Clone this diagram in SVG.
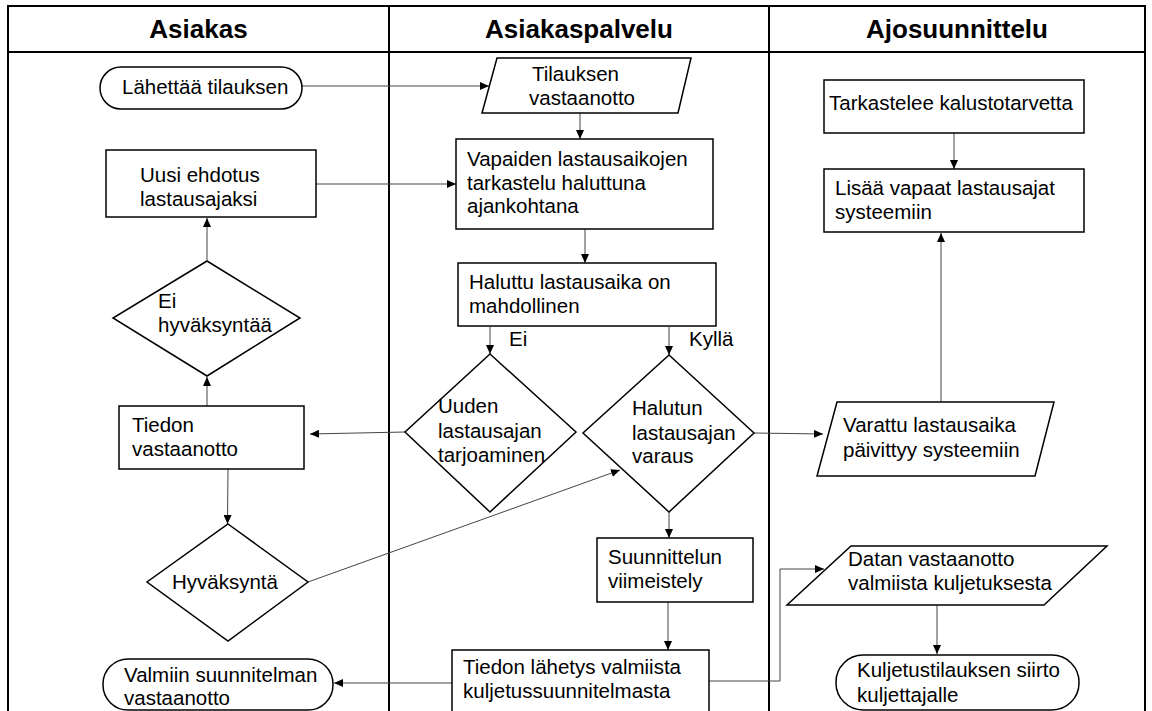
<svg xmlns="http://www.w3.org/2000/svg" width="1152" height="711" viewBox="0 0 1152 711">
<defs>
<marker id="ah" markerUnits="userSpaceOnUse" markerWidth="9" markerHeight="8" refX="9" refY="4" orient="auto">
<path d="M0,0 L9,4 L0,8 z" fill="#000"/>
</marker>
<style>
.lane{fill:none;stroke:#000;stroke-width:2}
.hd{font-family:"Liberation Sans",Arial,sans-serif;font-size:26px;font-weight:bold;fill:#000;text-anchor:middle}
.sh{fill:#fff;stroke:#000;stroke-width:1.5}
.t{font-family:"Liberation Sans",Arial,sans-serif;font-size:20.5px;fill:#000}
.c{fill:none;stroke:#444;stroke-width:1;marker-end:url(#ah)}
</style>
</defs>
<rect width="1152" height="711" fill="#fff"/>
<g id="lanes">
<path class="lane" d="M8,716 L8,6 L1145,6 L1145,716 M8,52 L1145,52 M389,6 L389,716 M769,6 L769,716"/>
<text class="hd" x="198.5" y="38">Asiakas</text>
<text class="hd" x="579" y="38">Asiakaspalvelu</text>
<text class="hd" x="957" y="38">Ajosuunnittelu</text>
</g>
<g id="connectors">
<path class="c" d="M302,86 L489,86"/>
<path class="c" d="M580,113 L580,139"/>
<path class="c" d="M316,184 L456,184"/>
<path class="c" d="M207,260 L207,218"/>
<path class="c" d="M207,406 L207,377"/>
<path class="c" d="M585,229 L585,263"/>
<path class="c" d="M490,327 L490,354"/>
<path class="c" d="M669,327 L669,355"/>
<path class="c" d="M405,432 L310,434"/>
<path class="c" d="M228,469 L227.5,524"/>
<path class="c" d="M308,582 L620,470"/>
<path class="c" d="M754,433 L823,434"/>
<path class="c" d="M941,402 L941,233"/>
<path class="c" d="M954,133 L954,169"/>
<path class="c" d="M669,512 L669,538"/>
<path class="c" d="M668,602 L668,650"/>
<path class="c" d="M452,683 L334,683"/>
<path class="c" d="M709,681 L780,681 L780,569 L824,569"/>
<path class="c" d="M937,605 L937,654"/>
</g>
<g id="n-lahettaa">
<rect class="sh" x="100" y="67" width="202" height="42" rx="21" ry="21"/>
<text class="t" x="122" y="94">Lähettää tilauksen</text>
</g>
<g id="n-tilauksen">
<polygon class="sh" points="497,58 691,58 678,113 482,113"/>
<text class="t" x="532" y="81">Tilauksen</text>
<text class="t" x="529" y="105">vastaanotto</text>
</g>
<g id="n-vapaiden">
<rect class="sh" x="456" y="139" width="257" height="90"/>
<text class="t" x="467" y="166">Vapaiden lastausaikojen</text>
<text class="t" x="467" y="190">tarkastelu haluttuna</text>
<text class="t" x="467" y="213">ajankohtana</text>
</g>
<g id="n-uusi">
<rect class="sh" x="106" y="150" width="210" height="67"/>
<text class="t" x="140" y="182">Uusi ehdotus</text>
<text class="t" x="140" y="206">lastausajaksi</text>
</g>
<g id="n-eihyv">
<polygon class="sh" points="207,261 300,318 207,376 113,318"/>
<text class="t" x="158" y="308">Ei</text>
<text class="t" x="158" y="332">hyväksyntää</text>
</g>
<g id="n-tiedon">
<rect class="sh" x="119" y="406" width="185" height="63"/>
<text class="t" x="132" y="432">Tiedon</text>
<text class="t" x="132" y="456">vastaanotto</text>
</g>
<g id="n-hyv">
<polygon class="sh" points="228,524 308,582 228,641 147,582"/>
<text class="t" x="172" y="589">Hyväksyntä</text>
</g>
<g id="n-valmiin">
<rect class="sh" x="103" y="659" width="230" height="51" rx="25" ry="25"/>
<text class="t" x="124" y="682">Valmiin suunnitelman</text>
<text class="t" x="124" y="705">vastaanotto</text>
</g>
<g id="n-haluttu">
<rect class="sh" x="458" y="263" width="258" height="63"/>
<text class="t" x="469" y="289">Haluttu lastausaika on</text>
<text class="t" x="469" y="313">mahdollinen</text>
</g>
<g id="l-ei">
<text class="t" x="509" y="346">Ei</text>
</g>
<g id="l-kylla">
<text class="t" x="689" y="346">Kyllä</text>
</g>
<g id="n-uuden">
<polygon class="sh" points="490,354 576,432 490,512 405,432"/>
<text class="t" x="438" y="413">Uuden</text>
<text class="t" x="438" y="438">lastausajan</text>
<text class="t" x="438" y="462">tarjoaminen</text>
</g>
<g id="n-halutun">
<polygon class="sh" points="669,355 754,433 669,512 583,433"/>
<text class="t" x="632" y="415">Halutun</text>
<text class="t" x="632" y="440">lastausajan</text>
<text class="t" x="632" y="463">varaus</text>
</g>
<g id="n-suunnittelun">
<rect class="sh" x="597" y="538" width="156" height="64"/>
<text class="t" x="608" y="564">Suunnittelun</text>
<text class="t" x="608" y="588">viimeistely</text>
</g>
<g id="n-lahetys">
<rect class="sh" x="452" y="650" width="257" height="70"/>
<text class="t" x="463" y="674">Tiedon lähetys valmiista</text>
<text class="t" x="463" y="698">kuljetussuunnitelmasta</text>
</g>
<g id="n-tarkastelee">
<rect class="sh" x="824" y="80" width="260" height="53"/>
<text class="t" x="829" y="110">Tarkastelee kalustotarvetta</text>
</g>
<g id="n-lisaa">
<rect class="sh" x="824" y="169" width="260" height="63"/>
<text class="t" x="835" y="195">Lisää vapaat lastausajat</text>
<text class="t" x="835" y="219">systeemiin</text>
</g>
<g id="n-varattu">
<polygon class="sh" points="837,402 1054,402 1035,476 817,476"/>
<text class="t" x="843" y="432">Varattu lastausaika</text>
<text class="t" x="843" y="457">päivittyy systeemiin</text>
</g>
<g id="n-datan">
<polygon class="sh" points="851,546 1107,546 1044,605 787,605"/>
<text class="t" x="848" y="566">Datan vastaanotto</text>
<text class="t" x="848" y="590">valmiista kuljetuksesta</text>
</g>
<g id="n-kuljetus">
<rect class="sh" x="836" y="655" width="243" height="55" rx="27" ry="27"/>
<text class="t" x="857" y="677">Kuljetustilauksen siirto</text>
<text class="t" x="857" y="702">kuljettajalle</text>
</g>
</svg>
